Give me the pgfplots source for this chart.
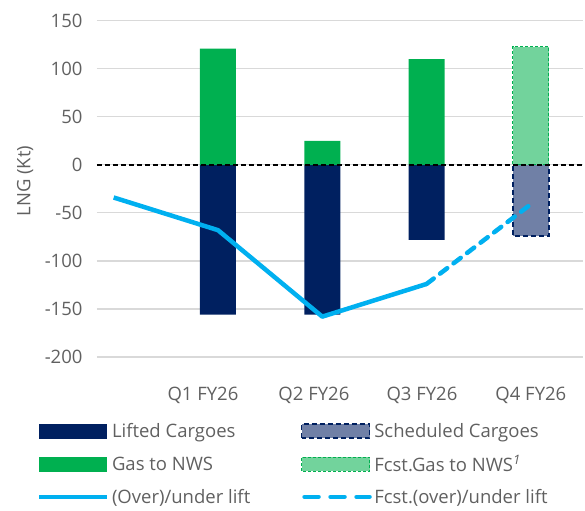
\documentclass[border=0pt]{standalone}
\usepackage{pgfplots}
\pgfplotsset{compat=1.18}
\usepackage{fontspec}
\setmainfont{Open Sans}
\definecolor{navy}{HTML}{002060}
\definecolor{gr}{HTML}{00B050}
\definecolor{lb}{HTML}{00B0F0}
\definecolor{txt}{HTML}{606060}
\definecolor{gridc}{HTML}{D9D9D9}
\definecolor{sched}{HTML}{7080A6}
\definecolor{fgr}{HTML}{72D39C}
\begin{document}
\begin{tikzpicture}
\begin{axis}[name=ax, scale only axis, width=486pt, height=336.3pt,
  xmin=-0.16, xmax=4.5, ymin=-200, ymax=150, ytick={-200,-150,...,150},
  xtick={0.856,1.92,2.956,4}, xticklabels={Q1 FY26,Q2 FY26,Q3 FY26,Q4 FY26},
  axis line style={draw=none}, major tick length=0pt,
  ymajorgrids, grid style={gridc, line width=1.2pt},
  tick label style={font=\fontsize{18.5}{22}\selectfont, text=txt},
  /pgf/number format/assume math mode=true,
  yticklabel style={xshift=-11pt},
  xticklabel style={yshift=-27pt},
  ylabel={LNG (Kt)}, ylabel style={font=\fontsize{18.5}{22}\selectfont, text=txt, at={(axis description cs:-0.148,0.523)}, anchor=center},
  legend columns=2, legend cell align=left,
  legend style={draw=none, fill=none, at={(axis description cs:-0.13,-0.185)}, anchor=north west,
    font=\fontsize{18.5}{22}\selectfont, text=txt, row sep=12.5pt,
    nodes={inner xsep=2.5pt, inner ysep=2pt},
    /tikz/column 2/.style={column sep=48pt}},
]
\addplot[ybar, bar width=36pt, bar shift=0pt, fill=navy, draw=none,
  legend image code/.code={\fill[navy] (0pt,-7.5pt) rectangle (68pt,7.5pt);}]
  coordinates {(1,-156) (2,-156) (3,-78)};
\addlegendentry{Lifted Cargoes}
\addplot[ybar, bar width=36pt, bar shift=0pt, fill=sched, draw=navy, line width=1.5pt, dash pattern=on 5pt off 3pt,
  legend image code/.code={\filldraw[fill=sched, draw=navy, line width=1.5pt, dash pattern=on 5pt off 3pt] (0pt,-7pt) rectangle (68pt,7pt);}]
  coordinates {(4,-74)};
\addlegendentry{Scheduled Cargoes}
\addplot[ybar, bar width=36pt, bar shift=0pt, fill=gr, draw=none,
  legend image code/.code={\fill[gr] (0pt,-7.5pt) rectangle (68pt,7.5pt);}]
  coordinates {(1,121) (2,25) (3,110)};
\addlegendentry{Gas to NWS}
\addplot[ybar, bar width=36pt, bar shift=0pt, fill=fgr, draw=gr, line width=1pt, dash pattern=on 3pt off 2pt,
  legend image code/.code={\filldraw[fill=fgr, draw=gr, line width=1pt, dash pattern=on 3pt off 2pt] (0pt,-7pt) rectangle (68pt,7pt);}]
  coordinates {(4,123)};
\addlegendentry{Fcst.Gas to NWS\textsuperscript{\textit{1}}}
\addplot[black, line width=1.6pt, dash pattern=on 5pt off 3pt, forget plot]
  coordinates {(-0.16,0) (4.5,0)};
\addplot[lb, line width=4.5pt, line join=round,
  legend image code/.code={\draw[lb, line width=4.5pt] (0pt,0pt) -- (68pt,0pt);}]
  coordinates {(0,-34) (1,-68) (2,-158) (3,-124)};
\addlegendentry{(Over)/under lift}
\addplot[lb, line width=4.5pt, dash pattern=on 9pt off 8pt, line cap=round,
  legend image code/.code={\draw[lb, line width=4.5pt, line cap=round, dash pattern=on 14pt off 12pt] (3pt,0pt) -- (68pt,0pt);}]
  coordinates {(3,-124) (4,-41)};
\addlegendentry{Fcst.(over)/under lift}
\end{axis}
\path ([xshift=-97pt,yshift=-154pt]ax.south west) rectangle ([xshift=2pt,yshift=20.7pt]ax.north east);
\end{tikzpicture}
\end{document}
